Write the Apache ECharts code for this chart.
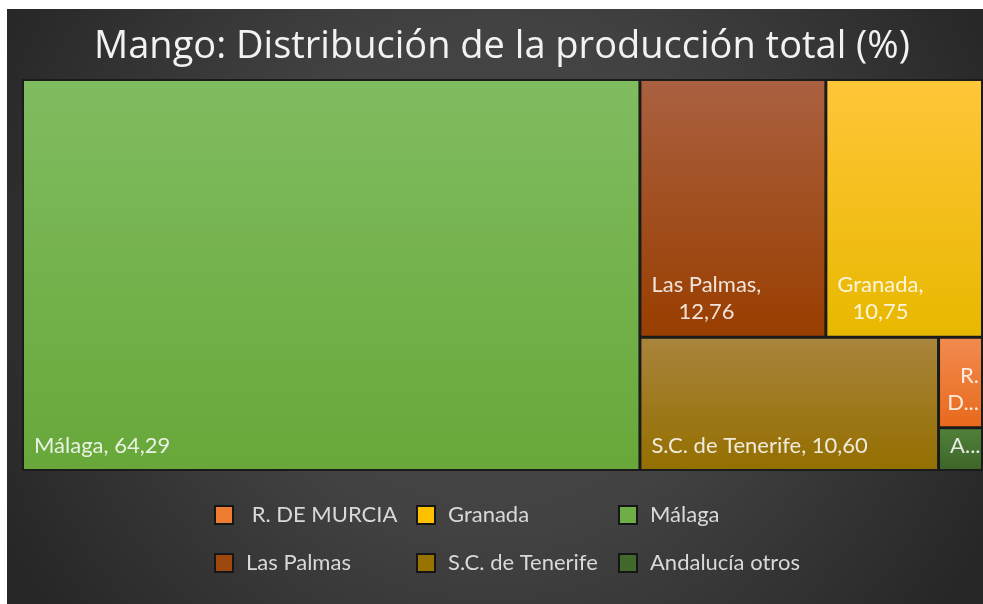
<!DOCTYPE html>
<html>
<head>
<meta charset="utf-8">
<script src="https://cdn.jsdelivr.net/npm/echarts@6/dist/echarts.min.js"></script>
<style>
    html, body { margin: 0; padding: 0; background: #fff; }
    #chart { width: 983px; height: 604px; }
</style>
</head>
<body>
<div id="chart"></div>
<script>
const titleText = 'Mango: Distribución de la producción total (%)';
const names = ['Málaga', 'Las Palmas', 'Granada', 'S.C. de Tenerife', ' R. DE MURCIA', 'Andalucía otros'];
const values = [64.29, 12.76, 10.75, 10.60, 1.06, 0.50];
const baseColors = ['#70ad47', '#9e480e', '#ffc000', '#997300', '#ed7d31', '#43682b'];
const topColors = ['#80bc60', '#aa6040', '#ffc638', '#a9843c', '#f28a4e', '#50803a'];
const bottomColors = ['#68a83a', '#993e00', '#e8b800', '#946f00', '#e86a1c', '#3e6628'];
const legendOrder = [' R. DE MURCIA', 'Granada', 'Málaga', 'Las Palmas', 'S.C. de Tenerife', 'Andalucía otros'];
// how Excel wrapped some of the labels
const wrapAfterName = ['Las Palmas', 'Granada'];
const wrapAfterWord = [' R. DE MURCIA'];
const rightAligned = [' R. DE MURCIA'];

const chart = echarts.init(document.getElementById('chart'));

const labelColor = 'rgba(255,255,255,0.85)';
const font = 'Lato';
const labelSize = 22;
const lineH = 27;

const measure = document.createElement('canvas').getContext('2d');
measure.font = labelSize + 'px ' + font;
function textW(s) { return measure.measureText(s).width; }

function fmt(v) {
    return v.toFixed(2).replace('.', ',');
}

function labelLines(i) {
    const n = names[i].trim();
    const v = fmt(values[i]);
    if (wrapAfterName.indexOf(names[i]) >= 0) return [n + ',', v];
    if (wrapAfterWord.indexOf(names[i]) >= 0) {
        const k = n.indexOf(' ');
        return [n.slice(0, k), n.slice(k + 1) + ', ' + v];
    }
    return [n + ', ' + v];
}

function fitLine(s, w) {
    if (textW(s) <= w) return s;
    let k = s.length;
    while (k > 1 && textW(s.slice(0, k) + '...') > w) k--;
    return s.slice(0, k) + '...';
}

function gradient(i) {
    return new echarts.graphic.LinearGradient(0, 0, 0, 1, [
        { offset: 0, color: topColors[i] },
        { offset: 1, color: bottomColors[i] }
    ]);
}

function buildData(boxes) {
    return names.map((n, i) => {
        const item = { name: n, value: values[i], itemStyle: { color: gradient(i) } };
        const lay = boxes && boxes[n];
        if (lay) {
            const bw = lay.borderWidth || 0;
            const cw = lay.width - 2 * bw;
            const ch = lay.height - 2 * bw;
            const padL = 10, padR = 2, padB = 10;
            let lines = labelLines(i).map(l => fitLine(l, cw - padL - padR));
            const align = rightAligned.indexOf(n) >= 0 ? 'right' : 'left';
            const rich = {};
            lines.forEach((l, j) => {
                let off = 0;
                if (wrapAfterName.indexOf(n) >= 0 && j > 0) off = (textW(lines[0]) - textW(l)) / 2;
                rich['t' + j] = {
                    align: align, fontFamily: font, fontSize: labelSize,
                    color: labelColor, lineHeight: lineH, padding: [0, 0, 0, off]
                };
            });
            item.label = {
                formatter: lines.map((l, j) => '{t' + j + '|' + l + '}').join('\n'),
                padding: [Math.max(ch - padB - lines.length * lineH, 0), padR, padB, padL],
                overflow: 'none',
                rich: rich
            };
        }
        return item;
    });
}

// legend drawn as graphic, 3 columns x 2 rows like the original
const colX = [214, 416, 618];
const rowY = [515, 563];
const legendEls = [];
legendOrder.forEach((n, k) => {
    const i = names.indexOf(n);
    const x = colX[k % 3];
    const y = rowY[Math.floor(k / 3)];
    legendEls.push({
        type: 'rect',
        shape: { x: x + 1, y: y - 9, width: 18, height: 18 },
        style: { fill: baseColors[i], stroke: '#161616', lineWidth: 2 }
    });
    legendEls.push({
        type: 'text',
        x: x + 32,
        y: y,
        style: {
            text: n,
            fill: '#d9d9d9',
            font: '22px Lato',
            textVerticalAlign: 'middle'
        }
    });
});

const option = {
    backgroundColor: '#fff',
    graphic: [
        {
            type: 'rect',
            z: -10,
            shape: { x: 7, y: 9, width: 976, height: 595 },
            style: {
                fill: new echarts.graphic.RadialGradient(0.5, 0.45, 0.95, [
                    { offset: 0, color: '#4a4a4a' },
                    { offset: 0.45, color: '#424242' },
                    { offset: 1, color: '#262626' }
                ])
            }
        },
        {
            type: 'text',
            x: 502,
            y: 47,
            style: {
                text: titleText,
                fill: '#f2f2f2',
                font: '38px "Open Sans"',
                textAlign: 'center',
                textVerticalAlign: 'middle',
                shadowColor: 'rgba(0,0,0,0.5)',
                shadowBlur: 3
            }
        }
    ].concat(legendEls),
    series: [
        {
            type: 'treemap',
            left: 22,
            top: 79,
            width: 961,
            height: 392,
            roam: false,
            nodeClick: false,
            breadcrumb: { show: false },
            sort: 'desc',
            levels: [
                {
                    itemStyle: { borderWidth: 1, borderColor: '#1b1b1b', gapWidth: 1 }
                }
            ],
            itemStyle: { borderWidth: 1, borderColor: '#1b1b1b' },
            label: {
                show: true,
                padding: [0, 2, 10, 10],
                fontFamily: font,
                fontSize: labelSize,
                lineHeight: lineH,
                color: labelColor
            },
            emphasis: { disabled: true },
            data: buildData(null)
        }
    ]
};
chart.setOption(option);

// second pass: read the boxes the treemap laid out and push labels to the bottom
const treeData = chart.getModel().getSeriesByIndex(0).getData();
const boxes = {};
for (let k = 0; k < treeData.count(); k++) {
    const lay = treeData.getItemLayout(k);
    if (lay) boxes[treeData.getName(k)] = lay;
}
chart.setOption({ series: [{ data: buildData(boxes) }] });
</script>
</body>
</html>
